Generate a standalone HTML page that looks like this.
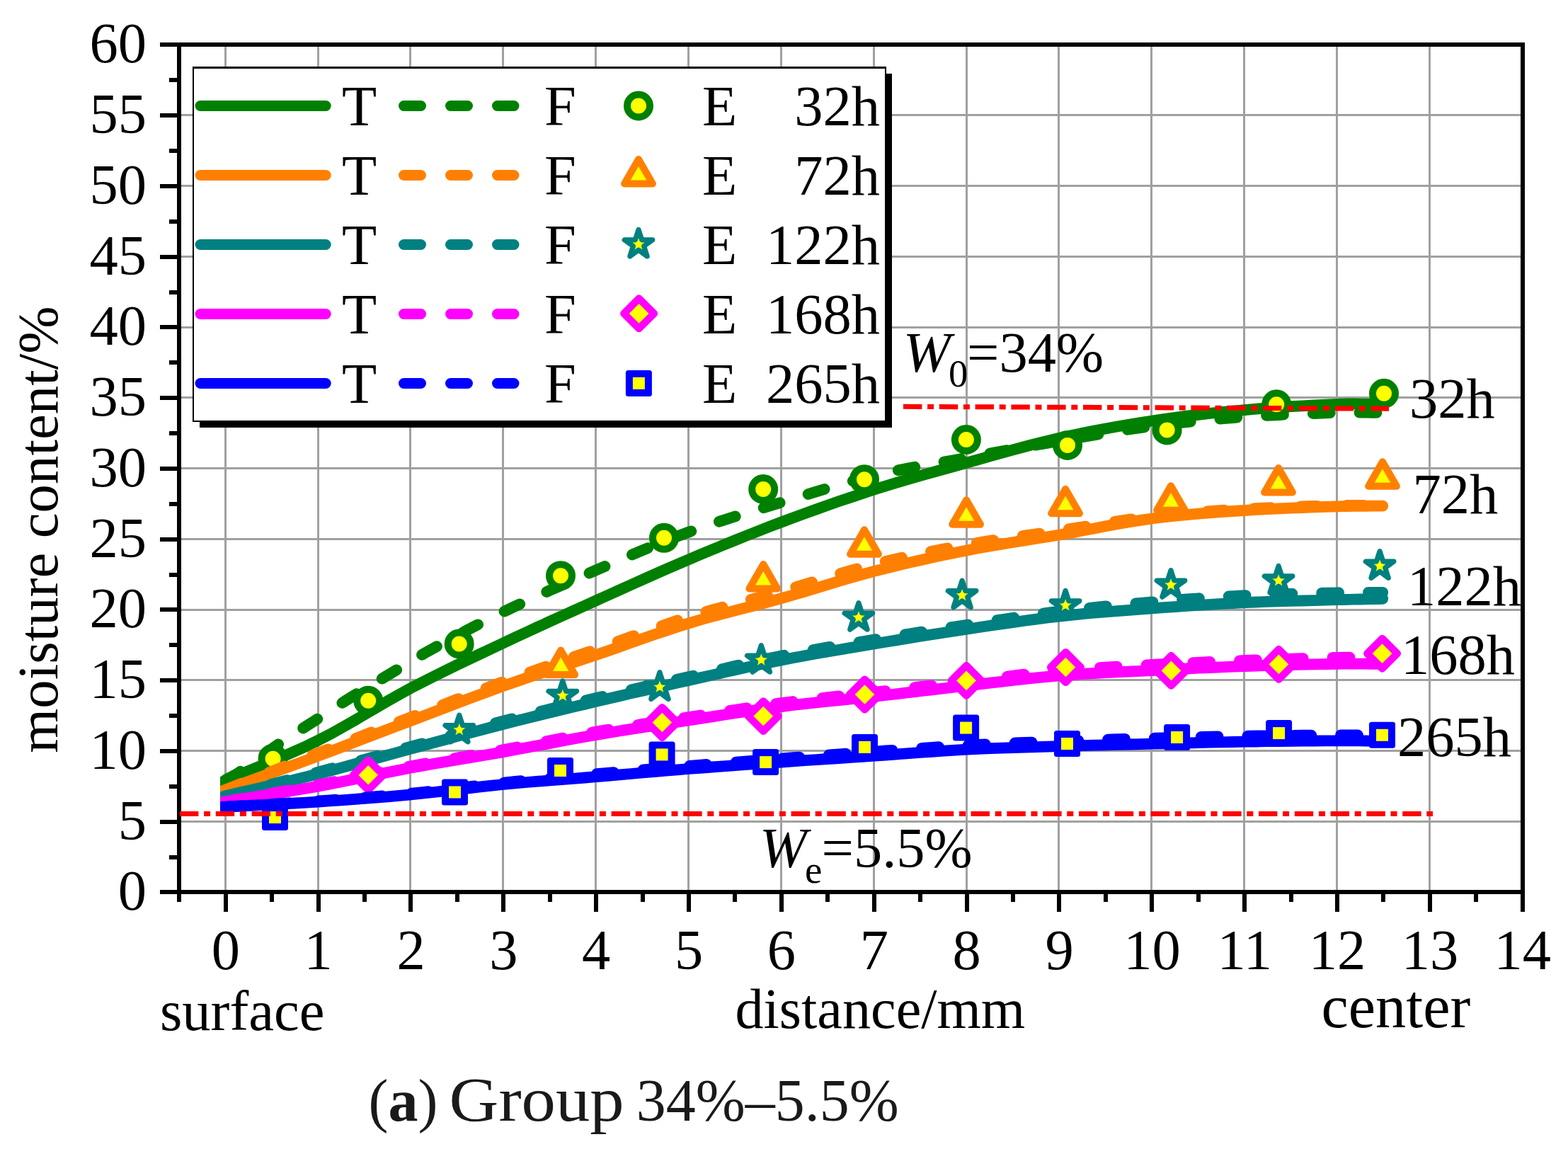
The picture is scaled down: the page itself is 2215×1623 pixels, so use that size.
<!DOCTYPE html>
<html lang="en"><head><meta charset="utf-8"><title>Moisture content distribution - Group 34%-5.5%</title>
<style>
html,body{margin:0;padding:0;background:#fff;}
body{width:2215px;height:1623px;overflow:hidden;}
svg{display:block;}
text{font-family:"Liberation Serif","Times New Roman",Times,serif;fill:#000;}
.tk{font-size:80.5px;}
.cap{font-size:84px;fill:#1a1a1a;}
</style></head><body>
<svg xmlns="http://www.w3.org/2000/svg" width="2215" height="1623" viewBox="0 0 2215 1623">
<rect width="2215" height="1623" fill="#fff"/>
<g fill="#a0a0a0" shape-rendering="crispEdges">
<rect x="317" y="66" width="3" height="1191"/>
<rect x="448" y="66" width="3" height="1191"/>
<rect x="578" y="66" width="3" height="1191"/>
<rect x="709" y="66" width="3" height="1191"/>
<rect x="840" y="66" width="3" height="1191"/>
<rect x="971" y="66" width="3" height="1191"/>
<rect x="1102" y="66" width="3" height="1191"/>
<rect x="1233" y="66" width="3" height="1191"/>
<rect x="1364" y="66" width="3" height="1191"/>
<rect x="1494" y="66" width="3" height="1191"/>
<rect x="1625" y="66" width="3" height="1191"/>
<rect x="1756" y="66" width="3" height="1191"/>
<rect x="1887" y="66" width="3" height="1191"/>
<rect x="2018" y="66" width="3" height="1191"/>
<rect x="256" y="1159" width="1892" height="3"/>
<rect x="256" y="1059" width="1892" height="3"/>
<rect x="256" y="959" width="1892" height="3"/>
<rect x="256" y="860" width="1892" height="3"/>
<rect x="256" y="760" width="1892" height="3"/>
<rect x="256" y="660" width="1892" height="3"/>
<rect x="256" y="560" width="1892" height="3"/>
<rect x="256" y="461" width="1892" height="3"/>
<rect x="256" y="361" width="1892" height="3"/>
<rect x="256" y="261" width="1892" height="3"/>
<rect x="256" y="161" width="1892" height="3"/>
</g>
<defs><clipPath id="cl"><rect x="311.1" y="66" width="1837" height="1191"/></clipPath></defs>
<g fill="none" stroke="#008000" stroke-width="15.8" stroke-linecap="round" stroke-linejoin="round" clip-path="url(#cl)">
<polyline points="307.8,1107.3 318.8,1102.6 335.2,1095.6 351.5,1088.8 367.9,1082.0 384.2,1075.2 400.6,1068.3 416.9,1061.1 433.3,1053.7 449.7,1045.7 466.0,1037.3 482.4,1028.2 498.7,1018.9 515.1,1009.3 531.4,999.6 547.8,990.1 564.2,980.8 580.5,971.9 596.9,963.4 613.2,955.2 629.6,947.1 645.9,939.1 662.3,931.3 678.7,923.5 695.0,915.8 711.4,908.1 727.7,900.4 744.1,892.8 760.4,885.3 776.8,877.8 793.2,870.4 809.5,863.0 825.9,855.6 842.2,848.2 858.6,840.9 874.9,833.5 891.3,826.1 907.7,818.8 924.0,811.5 940.4,804.3 956.7,797.2 973.1,790.2 989.4,783.3 1005.8,776.5 1022.2,769.7 1038.5,763.1 1054.9,756.5 1071.2,750.1 1087.6,743.7 1103.9,737.5 1120.3,731.4 1136.7,725.4 1153.0,719.5 1169.4,713.6 1185.7,707.9 1202.1,702.4 1218.4,696.9 1234.8,691.6 1251.2,686.5 1267.5,681.5 1283.9,676.7 1300.2,672.0 1316.6,667.4 1332.9,662.8 1349.3,658.3 1365.7,653.7 1382.0,649.1 1398.4,644.5 1414.7,639.9 1431.1,635.4 1447.4,631.0 1463.8,626.7 1480.2,622.6 1496.5,618.8 1512.9,615.2 1529.2,611.8 1545.6,608.5 1561.9,605.4 1578.3,602.5 1594.7,599.7 1611.0,597.0 1627.4,594.5 1643.7,592.1 1660.1,589.8 1676.4,587.7 1692.8,585.8 1709.2,583.9 1725.5,582.2 1741.9,580.6 1758.2,579.1 1774.6,577.7 1790.9,576.4 1807.3,575.3 1823.7,574.2 1840.0,573.3 1856.4,572.4 1872.7,571.6 1889.1,570.9 1897.1,570.7 1905.1,570.5 1913.1,570.5 1921.1,570.6 1929.2,570.7 1937.2,570.8 1945.2,570.9 1953.2,570.9"/>
<polyline points="308.3,1107.4 318.8,1101.6 321.3,1100.3 323.7,1099.0 326.2,1097.7 328.6,1096.4 331.1,1095.1 333.5,1093.7 336.0,1092.2 338.4,1090.6 345.6,1085.7 352.8,1080.6 360.0,1075.4 367.2,1070.1 374.4,1064.9 381.6,1059.6 388.8,1054.5 396.0,1049.5 402.7,1045.0 409.4,1040.6 416.1,1036.2 422.8,1031.9 429.5,1027.7 436.2,1023.4 443.0,1019.1 449.7,1014.8 454.7,1011.5 459.8,1008.2 464.9,1004.8 469.9,1001.5 475.0,998.2 480.1,994.9 485.2,991.7 490.2,988.5 497.8,983.8 505.4,979.1 513.0,974.5 520.6,969.9 528.3,965.4 535.9,960.9 543.5,956.3 551.1,951.8 558.2,947.5 565.3,943.2 572.4,938.9 579.5,934.5 586.6,930.3 593.8,926.1 600.9,922.0 608.0,918.1 620.9,911.0 633.8,904.0 646.8,897.1 659.7,890.3 672.6,883.6 685.5,877.0 698.4,870.5 711.4,864.2 727.7,856.4 744.1,848.8 760.4,841.3 776.8,833.9 793.2,826.7 809.5,819.5 825.9,812.4 842.2,805.3 858.6,798.3 874.9,791.2 891.3,784.2 907.7,777.3 924.0,770.6 940.4,764.0 956.7,757.6 973.1,751.5 989.4,745.6 1005.8,740.1 1022.2,734.7 1038.5,729.5 1054.9,724.5 1071.2,719.5 1087.6,714.5 1103.9,709.6 1120.3,704.6 1136.7,699.5 1153.0,694.5 1169.4,689.6 1185.7,684.8 1202.1,680.1 1218.4,675.8 1234.8,671.7 1251.2,667.9 1267.5,664.5 1283.9,661.3 1300.2,658.3 1316.6,655.4 1332.9,652.6 1349.3,649.7 1365.7,646.7 1382.0,643.7 1398.4,640.6 1414.7,637.6 1431.1,634.5 1447.4,631.5 1463.8,628.5 1480.2,625.6 1496.5,622.8 1512.9,620.0 1529.2,617.2 1545.6,614.4 1561.9,611.6 1578.3,609.0 1594.7,606.5 1611.0,604.1 1627.4,601.9 1643.7,599.8 1660.1,597.9 1676.4,596.1 1692.8,594.4 1709.2,592.9 1725.5,591.4 1741.9,590.1 1758.2,588.9 1774.6,587.8 1790.9,586.8 1807.3,586.0 1823.7,585.2 1840.0,584.5 1856.4,584.0 1872.7,583.4 1889.1,582.9 1897.1,582.7 1905.1,582.6 1913.1,582.6 1921.1,582.7 1929.2,582.7 1937.2,582.8 1945.2,582.9 1953.2,582.9" stroke-dasharray="24 41.8" stroke-dashoffset="53.8"/>
</g>
<g>
<circle cx="385.6" cy="1071.7" r="16" fill="#ffff00" stroke="#008000" stroke-width="10"/>
<circle cx="520.2" cy="989.8" r="16" fill="#ffff00" stroke="#008000" stroke-width="10"/>
<circle cx="648.7" cy="909.5" r="16" fill="#ffff00" stroke="#008000" stroke-width="10"/>
<circle cx="792.0" cy="813.2" r="16" fill="#ffff00" stroke="#008000" stroke-width="10"/>
<circle cx="938.0" cy="759.8" r="16" fill="#ffff00" stroke="#008000" stroke-width="10"/>
<circle cx="1078.2" cy="691.0" r="16" fill="#ffff00" stroke="#008000" stroke-width="10"/>
<circle cx="1221.0" cy="677.2" r="16" fill="#ffff00" stroke="#008000" stroke-width="10"/>
<circle cx="1364.9" cy="621.0" r="16" fill="#ffff00" stroke="#008000" stroke-width="10"/>
<circle cx="1508.0" cy="628.9" r="16" fill="#ffff00" stroke="#008000" stroke-width="10"/>
<circle cx="1648.6" cy="607.4" r="16" fill="#ffff00" stroke="#008000" stroke-width="10"/>
<circle cx="1803.2" cy="571.3" r="16" fill="#ffff00" stroke="#008000" stroke-width="10"/>
<circle cx="1955.0" cy="555.8" r="16" fill="#ffff00" stroke="#008000" stroke-width="10"/>
</g>
<g fill="none" stroke="#ff8000" stroke-width="15.8" stroke-linecap="round" stroke-linejoin="round" clip-path="url(#cl)">
<polyline points="307.5,1119.7 318.8,1115.6 335.2,1109.6 351.5,1103.6 367.9,1097.7 384.2,1091.7 400.6,1085.8 416.9,1079.8 433.3,1073.8 449.7,1067.7 466.0,1061.6 482.4,1055.4 498.7,1049.2 515.1,1042.9 531.4,1036.7 547.8,1030.4 564.2,1024.2 580.5,1018.0 596.9,1011.8 613.2,1005.6 629.6,999.3 645.9,993.1 662.3,986.9 678.7,980.8 695.0,974.8 711.4,968.9 727.7,963.2 744.1,957.6 760.4,952.1 776.8,946.7 793.2,941.3 809.5,935.9 825.9,930.5 842.2,925.0 858.6,919.4 874.9,913.7 891.3,907.9 907.7,902.1 924.0,896.4 940.4,890.9 956.7,885.5 973.1,880.4 989.4,875.5 1005.8,871.0 1022.2,866.6 1038.5,862.4 1054.9,858.2 1071.2,854.0 1087.6,849.7 1103.9,845.2 1120.3,840.5 1136.7,835.7 1153.0,830.7 1169.4,825.7 1185.7,820.8 1202.1,816.0 1218.4,811.3 1234.8,806.9 1251.2,802.8 1267.5,798.8 1283.9,794.9 1300.2,791.2 1316.6,787.5 1332.9,784.1 1349.3,780.7 1365.7,777.4 1382.0,774.3 1398.4,771.4 1414.7,768.7 1431.1,766.0 1447.4,763.4 1463.8,760.8 1480.2,758.2 1496.5,755.5 1512.9,752.6 1529.2,749.5 1545.6,746.4 1561.9,743.3 1578.3,740.3 1594.7,737.5 1611.0,734.9 1627.4,732.5 1643.7,730.5 1660.1,728.7 1676.4,727.1 1692.8,725.7 1709.2,724.4 1725.5,723.2 1741.9,722.0 1758.2,721.0 1774.6,719.9 1790.9,719.1 1807.3,718.3 1823.7,717.6 1840.0,717.0 1856.4,716.4 1872.7,715.9 1889.1,715.4 1897.1,715.1 1905.1,715.0 1913.1,714.9 1921.1,714.8 1929.2,714.8 1937.2,714.7 1945.2,714.6 1953.2,714.6"/>
<polyline points="307.6,1120.0 318.8,1115.6 335.2,1109.1 351.5,1102.6 367.9,1096.1 384.2,1089.6 400.6,1083.1 416.9,1076.6 433.3,1070.1 449.7,1063.7 466.0,1057.3 482.4,1050.9 498.7,1044.6 515.1,1038.2 531.4,1031.9 547.8,1025.6 564.2,1019.3 580.5,1013.0 596.9,1006.7 613.2,1000.4 629.6,994.0 645.9,987.7 662.3,981.4 678.7,975.2 695.0,969.0 711.4,962.9 727.7,957.0 744.1,951.2 760.4,945.4 776.8,939.7 793.2,934.1 809.5,928.4 825.9,922.8 842.2,917.1 858.6,911.3 874.9,905.4 891.3,899.5 907.7,893.6 924.0,887.8 940.4,882.1 956.7,876.6 973.1,871.4 989.4,866.4 1005.8,861.7 1022.2,857.2 1038.5,852.9 1054.9,848.5 1071.2,844.2 1087.6,839.8 1103.9,835.3 1120.3,830.5 1136.7,825.6 1153.0,820.6 1169.4,815.6 1185.7,810.6 1202.1,805.8 1218.4,801.2 1234.8,797.0 1251.2,793.0 1267.5,789.1 1283.9,785.5 1300.2,782.0 1316.6,778.7 1332.9,775.5 1349.3,772.4 1365.7,769.4 1382.0,766.6 1398.4,763.9 1414.7,761.4 1431.1,759.0 1447.4,756.6 1463.8,754.3 1480.2,751.9 1496.5,749.5 1512.9,746.9 1529.2,744.3 1545.6,741.6 1561.9,738.9 1578.3,736.3 1594.7,733.9 1611.0,731.6 1627.4,729.5 1643.7,727.7 1660.1,726.1 1676.4,724.6 1692.8,723.3 1709.2,722.1 1725.5,721.0 1741.9,719.9 1758.2,719.0 1774.6,718.1 1790.9,717.3 1807.3,716.6 1823.7,716.0 1840.0,715.5 1856.4,715.0 1872.7,714.6 1889.1,714.2 1897.1,714.0 1905.1,713.9 1913.1,713.8 1921.1,713.8 1929.2,713.8 1937.2,713.8 1945.2,713.8 1953.2,713.8" stroke-dasharray="24 41.8" stroke-dashoffset="53.8"/>
</g>
<g>
<polygon points="792.2,918.6 812.1,953.1 772.3,953.1" fill="#ffff00" stroke="#ff8000" stroke-width="10" stroke-linejoin="round"/>
<polygon points="1078.3,797.0 1098.2,831.5 1058.4,831.5" fill="#ffff00" stroke="#ff8000" stroke-width="10" stroke-linejoin="round"/>
<polygon points="1221.0,748.3 1240.9,782.8 1201.1,782.8" fill="#ffff00" stroke="#ff8000" stroke-width="10" stroke-linejoin="round"/>
<polygon points="1365.1,706.3 1385.0,740.8 1345.2,740.8" fill="#ffff00" stroke="#ff8000" stroke-width="10" stroke-linejoin="round"/>
<polygon points="1505.1,690.8 1525.0,725.3 1485.2,725.3" fill="#ffff00" stroke="#ff8000" stroke-width="10" stroke-linejoin="round"/>
<polygon points="1654.0,686.3 1673.9,720.8 1634.1,720.8" fill="#ffff00" stroke="#ff8000" stroke-width="10" stroke-linejoin="round"/>
<polygon points="1806.0,661.0 1825.9,695.5 1786.1,695.5" fill="#ffff00" stroke="#ff8000" stroke-width="10" stroke-linejoin="round"/>
<polygon points="1953.0,652.3 1972.9,686.8 1933.1,686.8" fill="#ffff00" stroke="#ff8000" stroke-width="10" stroke-linejoin="round"/>
</g>
<g fill="none" stroke="#008080" stroke-width="15.8" stroke-linecap="round" stroke-linejoin="round" clip-path="url(#cl)">
<polyline points="307.1,1127.3 318.8,1124.5 335.2,1120.6 351.5,1116.7 367.9,1112.9 384.2,1109.0 400.6,1105.1 416.9,1101.2 433.3,1097.1 449.7,1093.0 466.0,1088.8 482.4,1084.4 498.7,1080.0 515.1,1075.6 531.4,1071.1 547.8,1066.6 564.2,1062.1 580.5,1057.7 596.9,1053.3 613.2,1048.9 629.6,1044.5 645.9,1040.0 662.3,1035.7 678.7,1031.3 695.0,1027.0 711.4,1022.8 727.7,1018.6 744.1,1014.6 760.4,1010.5 776.8,1006.5 793.2,1002.6 809.5,998.6 825.9,994.7 842.2,990.9 858.6,987.0 874.9,983.2 891.3,979.4 907.7,975.7 924.0,972.0 940.4,968.3 956.7,964.6 973.1,961.0 989.4,957.3 1005.8,953.6 1022.2,949.9 1038.5,946.2 1054.9,942.6 1071.2,939.1 1087.6,935.7 1103.9,932.4 1120.3,929.3 1136.7,926.2 1153.0,923.3 1169.4,920.5 1185.7,917.7 1202.1,914.9 1218.4,912.2 1234.8,909.5 1251.2,906.8 1267.5,904.1 1283.9,901.4 1300.2,898.8 1316.6,896.2 1332.9,893.7 1349.3,891.2 1365.7,888.7 1382.0,886.3 1398.4,883.8 1414.7,881.4 1431.1,879.1 1447.4,876.8 1463.8,874.6 1480.2,872.5 1496.5,870.6 1512.9,868.8 1529.2,867.2 1545.6,865.7 1561.9,864.4 1578.3,863.1 1594.7,861.8 1611.0,860.6 1627.4,859.4 1643.7,858.2 1660.1,857.1 1676.4,855.9 1692.8,854.9 1709.2,853.9 1725.5,852.9 1741.9,852.0 1758.2,851.2 1774.6,850.5 1790.9,849.9 1807.3,849.4 1823.7,848.9 1840.0,848.5 1856.4,848.1 1872.7,847.7 1889.1,847.2 1897.1,847.0 1905.1,846.8 1913.1,846.7 1921.1,846.5 1929.2,846.3 1937.2,846.2 1945.2,846.0 1953.2,845.8"/>
<polyline points="307.2,1127.5 318.8,1124.5 335.2,1120.3 351.5,1116.1 367.9,1111.9 384.2,1107.7 400.6,1103.5 416.9,1099.2 433.3,1095.0 449.7,1090.6 466.0,1086.2 482.4,1081.8 498.7,1077.3 515.1,1072.8 531.4,1068.3 547.8,1063.8 564.2,1059.2 580.5,1054.7 596.9,1050.2 613.2,1045.6 629.6,1041.0 645.9,1036.3 662.3,1031.8 678.7,1027.2 695.0,1022.8 711.4,1018.4 727.7,1014.1 744.1,1009.9 760.4,1005.8 776.8,1001.7 793.2,997.7 809.5,993.7 825.9,989.8 842.2,985.9 858.6,982.0 874.9,978.2 891.3,974.5 907.7,970.7 924.0,967.0 940.4,963.4 956.7,959.7 973.1,956.0 989.4,952.2 1005.8,948.4 1022.2,944.6 1038.5,940.8 1054.9,937.0 1071.2,933.3 1087.6,929.8 1103.9,926.4 1120.3,923.2 1136.7,920.2 1153.0,917.3 1169.4,914.4 1185.7,911.6 1202.1,908.9 1218.4,906.2 1234.8,903.5 1251.2,900.8 1267.5,898.1 1283.9,895.5 1300.2,892.9 1316.6,890.3 1332.9,887.8 1349.3,885.2 1365.7,882.7 1382.0,880.2 1398.4,877.7 1414.7,875.2 1431.1,872.7 1447.4,870.3 1463.8,867.9 1480.2,865.7 1496.5,863.6 1512.9,861.6 1529.2,859.8 1545.6,858.0 1561.9,856.4 1578.3,854.8 1594.7,853.3 1611.0,851.8 1627.4,850.4 1643.7,849.1 1660.1,847.7 1676.4,846.5 1692.8,845.3 1709.2,844.1 1725.5,843.1 1741.9,842.1 1758.2,841.2 1774.6,840.5 1790.9,839.8 1807.3,839.3 1823.7,838.8 1840.0,838.4 1856.4,838.0 1872.7,837.6 1889.1,837.3 1897.1,837.1 1905.1,837.0 1913.1,837.0 1921.1,836.9 1929.2,836.9 1937.2,836.9 1945.2,836.9 1953.2,836.9" stroke-dasharray="24 41.8" stroke-dashoffset="53.8"/>
</g>
<g>
<polygon points="648.8,1010.2 653.5,1024.6 668.6,1024.6 656.4,1033.5 661.0,1047.8 648.8,1038.9 636.6,1047.8 641.2,1033.5 629.0,1024.6 644.1,1024.6" fill="#ffff00" stroke="#008080" stroke-width="7.2" stroke-linejoin="round"/>
<polygon points="794.8,961.9 799.5,976.3 814.6,976.3 802.4,985.2 807.0,999.5 794.8,990.6 782.6,999.5 787.2,985.2 775.0,976.3 790.1,976.3" fill="#ffff00" stroke="#008080" stroke-width="7.2" stroke-linejoin="round"/>
<polygon points="931.9,949.7 936.6,964.1 951.7,964.1 939.5,973.0 944.1,987.3 931.9,978.4 919.7,987.3 924.3,973.0 912.1,964.1 927.2,964.1" fill="#ffff00" stroke="#008080" stroke-width="7.2" stroke-linejoin="round"/>
<polygon points="1075.3,911.6 1080.0,926.0 1095.1,926.0 1082.9,934.9 1087.5,949.2 1075.3,940.3 1063.1,949.2 1067.7,934.9 1055.5,926.0 1070.6,926.0" fill="#ffff00" stroke="#008080" stroke-width="7.2" stroke-linejoin="round"/>
<polygon points="1212.9,851.6 1217.6,866.0 1232.7,866.0 1220.5,874.9 1225.1,889.2 1212.9,880.3 1200.7,889.2 1205.3,874.9 1193.1,866.0 1208.2,866.0" fill="#ffff00" stroke="#008080" stroke-width="7.2" stroke-linejoin="round"/>
<polygon points="1359.1,820.2 1363.8,834.6 1378.9,834.6 1366.7,843.5 1371.3,857.8 1359.1,848.9 1346.9,857.8 1351.5,843.5 1339.3,834.6 1354.4,834.6" fill="#ffff00" stroke="#008080" stroke-width="7.2" stroke-linejoin="round"/>
<polygon points="1505.1,834.4 1509.8,848.8 1524.9,848.8 1512.7,857.7 1517.3,872.0 1505.1,863.1 1492.9,872.0 1497.5,857.7 1485.3,848.8 1500.4,848.8" fill="#ffff00" stroke="#008080" stroke-width="7.2" stroke-linejoin="round"/>
<polygon points="1654.0,805.6 1658.7,820.0 1673.8,820.0 1661.6,828.9 1666.2,843.2 1654.0,834.3 1641.8,843.2 1646.4,828.9 1634.2,820.0 1649.3,820.0" fill="#ffff00" stroke="#008080" stroke-width="7.2" stroke-linejoin="round"/>
<polygon points="1806.1,799.5 1810.8,813.9 1825.9,813.9 1813.7,822.8 1818.3,837.1 1806.1,828.2 1793.9,837.1 1798.5,822.8 1786.3,813.9 1801.4,813.9" fill="#ffff00" stroke="#008080" stroke-width="7.2" stroke-linejoin="round"/>
<polygon points="1949.1,778.7 1953.8,793.1 1968.9,793.1 1956.7,802.0 1961.3,816.3 1949.1,807.4 1936.9,816.3 1941.5,802.0 1929.3,793.1 1944.4,793.1" fill="#ffff00" stroke="#008080" stroke-width="7.2" stroke-linejoin="round"/>
</g>
<g fill="none" stroke="#ff00ff" stroke-width="15.8" stroke-linecap="round" stroke-linejoin="round" clip-path="url(#cl)">
<polyline points="307.0,1134.3 318.8,1132.3 335.2,1129.6 351.5,1127.0 367.9,1124.4 384.2,1121.7 400.6,1119.0 416.9,1116.3 433.3,1113.5 449.7,1110.6 466.0,1107.5 482.4,1104.3 498.7,1101.0 515.1,1097.7 531.4,1094.3 547.8,1091.0 564.2,1087.7 580.5,1084.6 596.9,1081.7 613.2,1078.8 629.6,1076.0 645.9,1073.3 662.3,1070.5 678.7,1067.8 695.0,1065.0 711.4,1062.1 727.7,1059.1 744.1,1056.1 760.4,1053.0 776.8,1049.9 793.2,1046.8 809.5,1043.8 825.9,1040.8 842.2,1038.0 858.6,1035.2 874.9,1032.5 891.3,1029.9 907.7,1027.4 924.0,1024.9 940.4,1022.4 956.7,1019.9 973.1,1017.4 989.4,1014.9 1005.8,1012.4 1022.2,1009.8 1038.5,1007.3 1054.9,1004.9 1071.2,1002.5 1087.6,1000.2 1103.9,998.1 1120.3,996.0 1136.7,994.2 1153.0,992.4 1169.4,990.7 1185.7,989.1 1202.1,987.4 1218.4,985.7 1234.8,983.9 1251.2,982.0 1267.5,980.1 1283.9,978.2 1300.2,976.2 1316.6,974.3 1332.9,972.3 1349.3,970.4 1365.7,968.5 1382.0,966.7 1398.4,964.7 1414.7,962.8 1431.1,961.0 1447.4,959.1 1463.8,957.4 1480.2,955.8 1496.5,954.4 1512.9,953.1 1529.2,952.0 1545.6,951.0 1561.9,950.2 1578.3,949.4 1594.7,948.6 1611.0,947.8 1627.4,947.0 1643.7,946.2 1660.1,945.3 1676.4,944.5 1692.8,943.7 1709.2,943.0 1725.5,942.3 1741.9,941.6 1758.2,941.0 1774.6,940.5 1790.9,940.0 1807.3,939.5 1823.7,939.1 1840.0,938.7 1856.4,938.4 1872.7,938.1 1889.1,937.8 1897.1,937.7 1905.1,937.7 1913.1,937.7 1921.1,937.7 1929.2,937.7 1937.2,937.8 1945.2,937.8 1953.2,937.8"/>
<polyline points="307.0,1134.5 318.8,1132.3 335.2,1129.4 351.5,1126.4 367.9,1123.5 384.2,1120.6 400.6,1117.7 416.9,1114.7 433.3,1111.7 449.7,1108.6 466.0,1105.4 482.4,1102.1 498.7,1098.8 515.1,1095.4 531.4,1092.0 547.8,1088.7 564.2,1085.4 580.5,1082.2 596.9,1079.2 613.2,1076.3 629.6,1073.4 645.9,1070.6 662.3,1067.8 678.7,1065.0 695.0,1062.1 711.4,1059.1 727.7,1056.0 744.1,1052.8 760.4,1049.5 776.8,1046.2 793.2,1042.9 809.5,1039.7 825.9,1036.5 842.2,1033.6 858.6,1030.8 874.9,1028.1 891.3,1025.5 907.7,1022.9 924.0,1020.5 940.4,1018.0 956.7,1015.5 973.1,1013.0 989.4,1010.5 1005.8,1007.9 1022.2,1005.3 1038.5,1002.7 1054.9,1000.2 1071.2,997.7 1087.6,995.3 1103.9,993.1 1120.3,990.9 1136.7,988.9 1153.0,987.0 1169.4,985.2 1185.7,983.4 1202.1,981.6 1218.4,979.8 1234.8,977.9 1251.2,976.0 1267.5,974.1 1283.9,972.2 1300.2,970.2 1316.6,968.3 1332.9,966.4 1349.3,964.5 1365.7,962.5 1382.0,960.6 1398.4,958.6 1414.7,956.5 1431.1,954.5 1447.4,952.6 1463.8,950.7 1480.2,949.0 1496.5,947.4 1512.9,946.0 1529.2,944.8 1545.6,943.6 1561.9,942.6 1578.3,941.7 1594.7,940.8 1611.0,939.9 1627.4,939.0 1643.7,938.1 1660.1,937.3 1676.4,936.5 1692.8,935.8 1709.2,935.0 1725.5,934.3 1741.9,933.7 1758.2,933.0 1774.6,932.4 1790.9,931.8 1807.3,931.2 1823.7,930.6 1840.0,930.1 1856.4,929.6 1872.7,929.2 1889.1,928.8 1897.1,928.7 1905.1,928.6 1913.1,928.6 1921.1,928.7 1929.2,928.7 1937.2,928.8 1945.2,928.8 1953.2,928.8" stroke-dasharray="24 41.8" stroke-dashoffset="53.8"/>
</g>
<g>
<polygon points="520.2,1073.5 541.5,1094.8 520.2,1116.0 499.0,1094.8" fill="#ffff00" stroke="#ff00ff" stroke-width="10.5" stroke-linejoin="round"/>
<polygon points="935.4,999.2 956.6,1020.5 935.4,1041.8 914.1,1020.5" fill="#ffff00" stroke="#ff00ff" stroke-width="10.5" stroke-linejoin="round"/>
<polygon points="1078.3,990.4 1099.5,1011.6 1078.3,1032.8 1057.0,1011.6" fill="#ffff00" stroke="#ff00ff" stroke-width="10.5" stroke-linejoin="round"/>
<polygon points="1221.5,959.8 1242.8,981.0 1221.5,1002.2 1200.2,981.0" fill="#ffff00" stroke="#ff00ff" stroke-width="10.5" stroke-linejoin="round"/>
<polygon points="1365.1,940.1 1386.3,961.4 1365.1,982.6 1343.8,961.4" fill="#ffff00" stroke="#ff00ff" stroke-width="10.5" stroke-linejoin="round"/>
<polygon points="1505.4,921.2 1526.7,942.5 1505.4,963.8 1484.2,942.5" fill="#ffff00" stroke="#ff00ff" stroke-width="10.5" stroke-linejoin="round"/>
<polygon points="1654.4,926.1 1675.7,947.4 1654.4,968.6 1633.2,947.4" fill="#ffff00" stroke="#ff00ff" stroke-width="10.5" stroke-linejoin="round"/>
<polygon points="1806.4,917.1 1827.7,938.4 1806.4,959.6 1785.2,938.4" fill="#ffff00" stroke="#ff00ff" stroke-width="10.5" stroke-linejoin="round"/>
<polygon points="1952.6,901.9 1973.8,923.1 1952.6,944.4 1931.3,923.1" fill="#ffff00" stroke="#ff00ff" stroke-width="10.5" stroke-linejoin="round"/>
</g>
<g fill="none" stroke="#0000ff" stroke-width="15.8" stroke-linecap="round" stroke-linejoin="round" clip-path="url(#cl)">
<polyline points="306.8,1140.3 318.8,1139.7 335.2,1138.8 351.5,1138.0 367.9,1137.1 384.2,1136.3 400.6,1135.4 416.9,1134.5 433.3,1133.6 449.7,1132.5 466.0,1131.4 482.4,1130.3 498.7,1129.1 515.1,1127.9 531.4,1126.6 547.8,1125.3 564.2,1123.8 580.5,1122.3 596.9,1120.7 613.2,1119.0 629.6,1117.1 645.9,1115.2 662.3,1113.3 678.7,1111.4 695.0,1109.6 711.4,1108.0 727.7,1106.5 744.1,1105.0 760.4,1103.7 776.8,1102.4 793.2,1101.1 809.5,1099.8 825.9,1098.5 842.2,1097.2 858.6,1095.8 874.9,1094.4 891.3,1093.0 907.7,1091.5 924.0,1090.1 940.4,1088.7 956.7,1087.4 973.1,1086.0 989.4,1084.8 1005.8,1083.5 1022.2,1082.3 1038.5,1081.1 1054.9,1079.9 1071.2,1078.8 1087.6,1077.6 1103.9,1076.5 1120.3,1075.3 1136.7,1074.2 1153.0,1073.1 1169.4,1072.0 1185.7,1071.0 1202.1,1069.9 1218.4,1068.8 1234.8,1067.7 1251.2,1066.5 1267.5,1065.3 1283.9,1064.1 1300.2,1062.9 1316.6,1061.8 1332.9,1060.6 1349.3,1059.6 1365.7,1058.7 1382.0,1057.9 1398.4,1057.2 1414.7,1056.6 1431.1,1056.1 1447.4,1055.6 1463.8,1055.1 1480.2,1054.6 1496.5,1054.1 1512.9,1053.6 1529.2,1053.2 1545.6,1052.7 1561.9,1052.3 1578.3,1051.9 1594.7,1051.5 1611.0,1051.1 1627.4,1050.7 1643.7,1050.3 1660.1,1049.9 1676.4,1049.5 1692.8,1049.1 1709.2,1048.7 1725.5,1048.4 1741.9,1048.0 1758.2,1047.7 1774.6,1047.5 1790.9,1047.2 1807.3,1047.0 1823.7,1046.8 1840.0,1046.7 1856.4,1046.5 1872.7,1046.4 1889.1,1046.3 1897.1,1046.3 1905.1,1046.3 1913.1,1046.4 1921.1,1046.4 1929.2,1046.5 1937.2,1046.6 1945.2,1046.7 1953.2,1046.7"/>
<polyline points="306.8,1140.4 318.8,1139.7 335.2,1138.7 351.5,1137.7 367.9,1136.7 384.2,1135.8 400.6,1134.8 416.9,1133.7 433.3,1132.7 449.7,1131.5 466.0,1130.3 482.4,1129.1 498.7,1127.9 515.1,1126.6 531.4,1125.2 547.8,1123.8 564.2,1122.3 580.5,1120.7 596.9,1119.0 613.2,1117.2 629.6,1115.3 645.9,1113.3 662.3,1111.3 678.7,1109.3 695.0,1107.4 711.4,1105.6 727.7,1103.9 744.1,1102.3 760.4,1100.7 776.8,1099.2 793.2,1097.6 809.5,1096.2 825.9,1094.7 842.2,1093.2 858.6,1091.8 874.9,1090.3 891.3,1088.9 907.7,1087.5 924.0,1086.1 940.4,1084.8 956.7,1083.4 973.1,1082.0 989.4,1080.7 1005.8,1079.3 1022.2,1078.0 1038.5,1076.7 1054.9,1075.4 1071.2,1074.0 1087.6,1072.8 1103.9,1071.5 1120.3,1070.2 1136.7,1069.0 1153.0,1067.7 1169.4,1066.5 1185.7,1065.3 1202.1,1064.1 1218.4,1062.9 1234.8,1061.7 1251.2,1060.5 1267.5,1059.3 1283.9,1058.1 1300.2,1056.9 1316.6,1055.8 1332.9,1054.7 1349.3,1053.7 1365.7,1052.7 1382.0,1051.9 1398.4,1051.1 1414.7,1050.3 1431.1,1049.6 1447.4,1049.0 1463.8,1048.4 1480.2,1047.8 1496.5,1047.1 1512.9,1046.5 1529.2,1045.9 1545.6,1045.3 1561.9,1044.8 1578.3,1044.2 1594.7,1043.7 1611.0,1043.2 1627.4,1042.7 1643.7,1042.3 1660.1,1041.9 1676.4,1041.5 1692.8,1041.1 1709.2,1040.7 1725.5,1040.4 1741.9,1040.0 1758.2,1039.8 1774.6,1039.5 1790.9,1039.3 1807.3,1039.0 1823.7,1038.9 1840.0,1038.7 1856.4,1038.6 1872.7,1038.5 1889.1,1038.4 1897.1,1038.3 1905.1,1038.4 1913.1,1038.4 1921.1,1038.5 1929.2,1038.5 1937.2,1038.6 1945.2,1038.7 1953.2,1038.8" stroke-dasharray="24 41.8" stroke-dashoffset="53.8"/>
</g>
<g>
<rect x="370.0" y="1136.1" width="37" height="37" rx="3.5" fill="#0000ff"/><rect x="380.0" y="1146.1" width="17" height="17" fill="#ffff00"/>
<rect x="624.0" y="1100.5" width="37" height="37" rx="3.5" fill="#0000ff"/><rect x="634.0" y="1110.5" width="17" height="17" fill="#ffff00"/>
<rect x="773.0" y="1070.0" width="37" height="37" rx="3.5" fill="#0000ff"/><rect x="783.0" y="1080.0" width="17" height="17" fill="#ffff00"/>
<rect x="916.6" y="1047.4" width="37" height="37" rx="3.5" fill="#0000ff"/><rect x="926.6" y="1057.4" width="17" height="17" fill="#ffff00"/>
<rect x="1063.1" y="1058.1" width="37" height="37" rx="3.5" fill="#0000ff"/><rect x="1073.1" y="1068.1" width="17" height="17" fill="#ffff00"/>
<rect x="1203.0" y="1036.9" width="37" height="37" rx="3.5" fill="#0000ff"/><rect x="1213.0" y="1046.9" width="17" height="17" fill="#ffff00"/>
<rect x="1346.1" y="1009.6" width="37" height="37" rx="3.5" fill="#0000ff"/><rect x="1356.1" y="1019.6" width="17" height="17" fill="#ffff00"/>
<rect x="1489.0" y="1032.0" width="37" height="37" rx="3.5" fill="#0000ff"/><rect x="1499.0" y="1042.0" width="17" height="17" fill="#ffff00"/>
<rect x="1644.1" y="1023.0" width="37" height="37" rx="3.5" fill="#0000ff"/><rect x="1654.1" y="1033.0" width="17" height="17" fill="#ffff00"/>
<rect x="1788.1" y="1017.1" width="37" height="37" rx="3.5" fill="#0000ff"/><rect x="1798.1" y="1027.1" width="17" height="17" fill="#ffff00"/>
<rect x="1934.0" y="1019.8" width="37" height="37" rx="3.5" fill="#0000ff"/><rect x="1944.0" y="1029.8" width="17" height="17" fill="#ffff00"/>
</g>
<g fill="#000" shape-rendering="crispEdges">
<rect x="250" y="60" width="1904" height="6"/>
<rect x="250" y="1257" width="1904" height="6"/>
<rect x="250" y="60" width="6" height="1203"/>
<rect x="2148" y="60" width="6" height="1203"/>
<rect x="226" y="1257" width="25" height="6"/>
<rect x="226" y="1158" width="25" height="6"/>
<rect x="226" y="1058" width="25" height="6"/>
<rect x="226" y="958" width="25" height="6"/>
<rect x="226" y="858" width="25" height="6"/>
<rect x="226" y="759" width="25" height="6"/>
<rect x="226" y="659" width="25" height="6"/>
<rect x="226" y="559" width="25" height="6"/>
<rect x="226" y="459" width="25" height="6"/>
<rect x="226" y="360" width="25" height="6"/>
<rect x="226" y="260" width="25" height="6"/>
<rect x="226" y="160" width="25" height="6"/>
<rect x="226" y="60" width="25" height="6"/>
<rect x="239" y="1208" width="12" height="6"/>
<rect x="239" y="1108" width="12" height="6"/>
<rect x="239" y="1008" width="12" height="6"/>
<rect x="239" y="908" width="12" height="6"/>
<rect x="239" y="809" width="12" height="6"/>
<rect x="239" y="709" width="12" height="6"/>
<rect x="239" y="609" width="12" height="6"/>
<rect x="239" y="509" width="12" height="6"/>
<rect x="239" y="410" width="12" height="6"/>
<rect x="239" y="310" width="12" height="6"/>
<rect x="239" y="210" width="12" height="6"/>
<rect x="239" y="110" width="12" height="6"/>
<rect x="316" y="1262" width="6" height="26"/>
<rect x="447" y="1262" width="6" height="26"/>
<rect x="577" y="1262" width="6" height="26"/>
<rect x="708" y="1262" width="6" height="26"/>
<rect x="839" y="1262" width="6" height="26"/>
<rect x="970" y="1262" width="6" height="26"/>
<rect x="1101" y="1262" width="6" height="26"/>
<rect x="1232" y="1262" width="6" height="26"/>
<rect x="1363" y="1262" width="6" height="26"/>
<rect x="1493" y="1262" width="6" height="26"/>
<rect x="1624" y="1262" width="6" height="26"/>
<rect x="1755" y="1262" width="6" height="26"/>
<rect x="1886" y="1262" width="6" height="26"/>
<rect x="2017" y="1262" width="6" height="26"/>
<rect x="2148" y="1262" width="6" height="26"/>
<rect x="250" y="1262" width="6" height="12"/>
<rect x="381" y="1262" width="6" height="12"/>
<rect x="512" y="1262" width="6" height="12"/>
<rect x="643" y="1262" width="6" height="12"/>
<rect x="774" y="1262" width="6" height="12"/>
<rect x="905" y="1262" width="6" height="12"/>
<rect x="1035" y="1262" width="6" height="12"/>
<rect x="1166" y="1262" width="6" height="12"/>
<rect x="1297" y="1262" width="6" height="12"/>
<rect x="1428" y="1262" width="6" height="12"/>
<rect x="1559" y="1262" width="6" height="12"/>
<rect x="1690" y="1262" width="6" height="12"/>
<rect x="1821" y="1262" width="6" height="12"/>
<rect x="1951" y="1262" width="6" height="12"/>
<rect x="2082" y="1262" width="6" height="12"/>
</g>
<g stroke="#ff0000" stroke-width="7" fill="none" stroke-dasharray="26.4 7.7 9 7.7">
<line x1="254" y1="1149.5" x2="2024" y2="1149.5"/>
<line x1="1276" y1="574.3" x2="1962" y2="577.2"/>
</g>
<g class="tk" text-anchor="end">
<text x="207" y="1285.2">0</text>
<text x="207" y="1185.5">5</text>
<text x="207" y="1085.7">10</text>
<text x="207" y="986.0">15</text>
<text x="207" y="886.2">20</text>
<text x="207" y="786.5">25</text>
<text x="207" y="686.7">30</text>
<text x="207" y="587.0">35</text>
<text x="207" y="487.2">40</text>
<text x="207" y="387.5">45</text>
<text x="207" y="287.7">50</text>
<text x="207" y="188.0">55</text>
<text x="207" y="88.2">60</text>
</g>
<g class="tk" text-anchor="middle">
<text x="318.8" y="1368.9">0</text>
<text x="449.7" y="1368.9">1</text>
<text x="580.5" y="1368.9">2</text>
<text x="711.4" y="1368.9">3</text>
<text x="842.2" y="1368.9">4</text>
<text x="973.1" y="1368.9">5</text>
<text x="1103.9" y="1368.9">6</text>
<text x="1234.8" y="1368.9">7</text>
<text x="1365.7" y="1368.9">8</text>
<text x="1496.5" y="1368.9">9</text>
<text x="1627.4" y="1368.9">10</text>
<text x="1758.2" y="1368.9">11</text>
<text x="1889.1" y="1368.9">12</text>
<text x="2019.9" y="1368.9">13</text>
<text x="2150.8" y="1368.9">14</text>
</g>
<text class="tk" x="226" y="1455.3">surface</text>
<text class="tk" style="font-size:80.2px" x="1038.5" y="1451.7">distance/mm</text>
<text class="tk" style="font-size:86.3px" x="1866.5" y="1450.8">center</text>
<text class="tk" style="font-size:80.9px" text-anchor="middle" transform="translate(81,748) rotate(-90)">moisture content/%</text>
<text class="tk" y="525"><tspan x="1275.7" font-style="italic">W</tspan><tspan x="1339.9" y="545.9" font-size="54.5">0</tspan><tspan x="1366" y="525">=34%</tspan></text>
<text class="tk" y="1225"><tspan x="1072.8" font-style="italic">W</tspan><tspan x="1137" y="1246.7" font-size="55">e</tspan><tspan x="1160.6" y="1225">=5.5%</tspan></text>
<text class="tk" x="1991" y="590">32h</text>
<text class="tk" x="1995.5" y="725">72h</text>
<text class="tk" x="1988" y="854.5">122h</text>
<text class="tk" x="1979" y="952.4">168h</text>
<text class="tk" x="1974" y="1068">265h</text>
<g shape-rendering="crispEdges">
<rect x="282" y="104" width="978" height="500" fill="#000"/>
<rect x="272" y="94" width="980" height="502" fill="#000"/>
<rect x="274" y="97" width="976" height="497" fill="#fff"/>
</g>
<g stroke="#008000" stroke-width="15" stroke-linecap="round" fill="none">
<line x1="283" y1="149.5" x2="460.2" y2="149.5"/>
<line x1="570.5" y1="149.5" x2="726" y2="149.5" stroke-dasharray="24 42"/>
</g>
<circle cx="902.0" cy="149.5" r="16" fill="#ffff00" stroke="#008000" stroke-width="10"/>
<text class="tk" x="483" y="177.0">T</text>
<text class="tk" x="769" y="177.0">F</text>
<text class="tk" x="992" y="177.0">E</text>
<text class="tk" x="1243" y="176.8" text-anchor="end">32h</text>
<g stroke="#ff8000" stroke-width="15" stroke-linecap="round" fill="none">
<line x1="283" y1="247.5" x2="460.2" y2="247.5"/>
<line x1="570.5" y1="247.5" x2="726" y2="247.5" stroke-dasharray="24 42"/>
</g>
<polygon points="902.0,225.0 921.9,259.5 882.1,259.5" fill="#ffff00" stroke="#ff8000" stroke-width="10" stroke-linejoin="round"/>
<text class="tk" x="483" y="275.0">T</text>
<text class="tk" x="769" y="275.0">F</text>
<text class="tk" x="992" y="275.0">E</text>
<text class="tk" x="1243" y="274.8" text-anchor="end">72h</text>
<g stroke="#008080" stroke-width="15" stroke-linecap="round" fill="none">
<line x1="283" y1="345.5" x2="460.2" y2="345.5"/>
<line x1="570.5" y1="345.5" x2="726" y2="345.5" stroke-dasharray="24 42"/>
</g>
<polygon points="902.0,324.4 906.7,338.8 921.8,338.8 909.6,347.7 914.2,362.0 902.0,353.1 889.8,362.0 894.4,347.7 882.2,338.8 897.3,338.8" fill="#ffff00" stroke="#008080" stroke-width="7.2" stroke-linejoin="round"/>
<text class="tk" x="483" y="373.0">T</text>
<text class="tk" x="769" y="373.0">F</text>
<text class="tk" x="992" y="373.0">E</text>
<text class="tk" x="1243" y="372.8" text-anchor="end">122h</text>
<g stroke="#ff00ff" stroke-width="15" stroke-linecap="round" fill="none">
<line x1="283" y1="443.5" x2="460.2" y2="443.5"/>
<line x1="570.5" y1="443.5" x2="726" y2="443.5" stroke-dasharray="24 42"/>
</g>
<polygon points="902.6,421.6 923.9,442.9 902.6,464.1 881.4,442.9" fill="#ffff00" stroke="#ff00ff" stroke-width="10.5" stroke-linejoin="round"/>
<text class="tk" x="483" y="471.0">T</text>
<text class="tk" x="769" y="471.0">F</text>
<text class="tk" x="992" y="471.0">E</text>
<text class="tk" x="1243" y="470.8" text-anchor="end">168h</text>
<g stroke="#0000ff" stroke-width="15" stroke-linecap="round" fill="none">
<line x1="283" y1="541.5" x2="460.2" y2="541.5"/>
<line x1="570.5" y1="541.5" x2="726" y2="541.5" stroke-dasharray="24 42"/>
</g>
<rect x="883.9" y="522.9" width="37" height="37" rx="3.5" fill="#0000ff"/><rect x="893.9" y="532.9" width="17" height="17" fill="#ffff00"/>
<text class="tk" x="483" y="569.0">T</text>
<text class="tk" x="769" y="569.0">F</text>
<text class="tk" x="992" y="569.0">E</text>
<text class="tk" x="1243" y="568.8" text-anchor="end">265h</text>
<text class="cap" y="1583"><tspan x="520.6">(</tspan><tspan font-weight="bold">a</tspan><tspan>) </tspan><tspan x="634.6" font-size="88" textLength="247" lengthAdjust="spacingAndGlyphs">Group</tspan><tspan> </tspan><tspan x="898.7">34%–5.5%</tspan></text>
</svg>
</body></html>
